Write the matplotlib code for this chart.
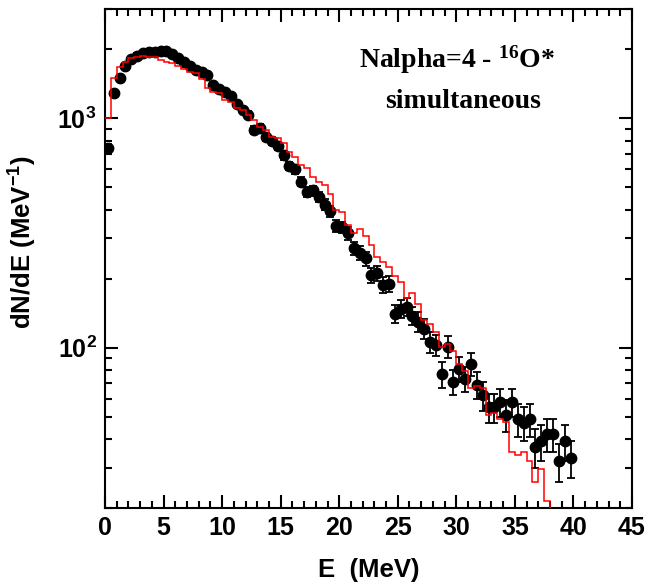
import numpy as np
import matplotlib
matplotlib.use("Agg")
import matplotlib.pyplot as plt
from matplotlib.ticker import MultipleLocator, LogLocator, NullFormatter

plt.rcParams['font.family'] = ['Liberation Sans', 'DejaVu Sans']
plt.rcParams['font.weight'] = 'bold'
plt.rcParams['mathtext.default'] = 'regular'

#data points (0.5 MeV bins)
E_data = np.arange(0.25, 40.0, 0.5)
dNdE = [740, 1290, 1500, 1690, 1810, 1880, 1920, 1950, 1950, 1960,
        1970, 1900, 1840, 1760, 1700, 1620, 1600, 1540, 1400, 1350,
        1300, 1250, 1160, 1090, 1040, 890, 910, 830, 800, 760,
        690, 620, 600, 530, 480, 485, 455, 420, 395, 340,
        335, 315, 272, 260, 245, 207, 211, 188, 190, 141,
        148, 151, 138, 130, 121, 106, 103, 77, 101, 71,
        81, 73, 85, 69, 62, 55, 55, 58, 51, 58,
        49, 47, 49, 37, 39, 42, 42, 32, 39, 33]
dNdE_err = [30, 40, 43, 45, 47, 48, 48, 49, 49, 49,
            49, 48, 47, 46, 45, 44, 44, 43, 41, 40,
            40, 39, 37, 36, 35, 33, 33, 32, 31, 30,
            29, 27, 27, 25, 24, 24, 23, 23, 22, 20,
            20, 20, 18, 18, 17, 16, 16, 15, 15, 13,
            13, 14, 13, 13, 12, 11, 11, 10, 11, 9,
            10, 9, 10, 9, 9, 8, 8, 8, 8, 8,
            8, 8, 8, 7, 7, 7, 7, 6, 7, 6]

#simulation histogram
sim_edges = np.arange(0, 38.51, 0.5)
sim_vals = [1000, 1495, 1680, 1767, 1830, 1860, 1870, 1860, 1850, 1800,
            1770, 1740, 1700, 1650, 1600, 1570, 1480, 1360, 1310, 1285,
            1200, 1180, 1106, 1085, 1034, 983, 920, 889, 832, 818,
            778, 716, 680, 625, 605, 556, 530, 512, 470, 398,
            390, 342, 315, 331, 307, 280, 249, 237, 226, 206,
            194, 164, 173, 155, 132, 127, 117, 101, 104, 97,
            85, 79, 67, 68, 67, 51, 52, 49, 47.5, 35,
            34, 35, 32, 26, 29.7, 21.5, 10]

W, H = 651, 587
fig = plt.figure(figsize=(W/100, H/100), dpi=100)
ax = fig.add_axes([105/W, 79/H, 527/W, 499/H])

ax.errorbar(E_data, dNdE, yerr=dNdE_err, fmt='o', color='black', ms=7.5,
            elinewidth=1.3, capsize=3, capthick=1.3, zorder=2)
ax.stairs(sim_vals, sim_edges, baseline=None, color='red', lw=1.1, zorder=3)

ax.set_yscale('log')
ax.set_xlim(0, 45)
ax.set_ylim(20, 3000)

ax.xaxis.set_major_locator(MultipleLocator(5))
ax.xaxis.set_minor_locator(MultipleLocator(1))
ax.yaxis.set_major_locator(LogLocator(base=10))
ax.yaxis.set_minor_locator(LogLocator(base=10, subs=np.arange(2, 10)))
ax.yaxis.set_minor_formatter(NullFormatter())

ax.tick_params(which='both', direction='in', top=True, right=True, width=1.5)
ax.tick_params(which='major', length=9.5, labelsize=18, pad=6)
ax.tick_params(which='minor', length=5)
for sp in ax.spines.values():
    sp.set_linewidth(1.5)
for lab in ax.get_xticklabels() + ax.get_yticklabels():
    lab.set_fontweight('bold')

ax.set_xlabel('E  (MeV)', fontsize=18.5, fontweight='bold')
ax.set_ylabel('dN/dE (MeV$^{-1}$)', fontsize=18.5, fontweight='bold')
ax.xaxis.set_label_coords(0.5, -0.1)
ax.yaxis.set_label_coords(-0.125, 0.533)

#label in upper right, positions in pixels from top-left
ax.text(457/W, 1 - 60/H, 'Nalpha=4 - $^{16}$O*', transform=fig.transFigure,
        fontsize=20, family='Liberation Serif', fontweight='bold', ha='center', va='center')
ax.text(463/W, 1 - 102/H, 'simultaneous', transform=fig.transFigure,
        fontsize=20, family='Liberation Serif', fontweight='bold', ha='center', va='center')

fig.savefig('out.png', dpi=100)
